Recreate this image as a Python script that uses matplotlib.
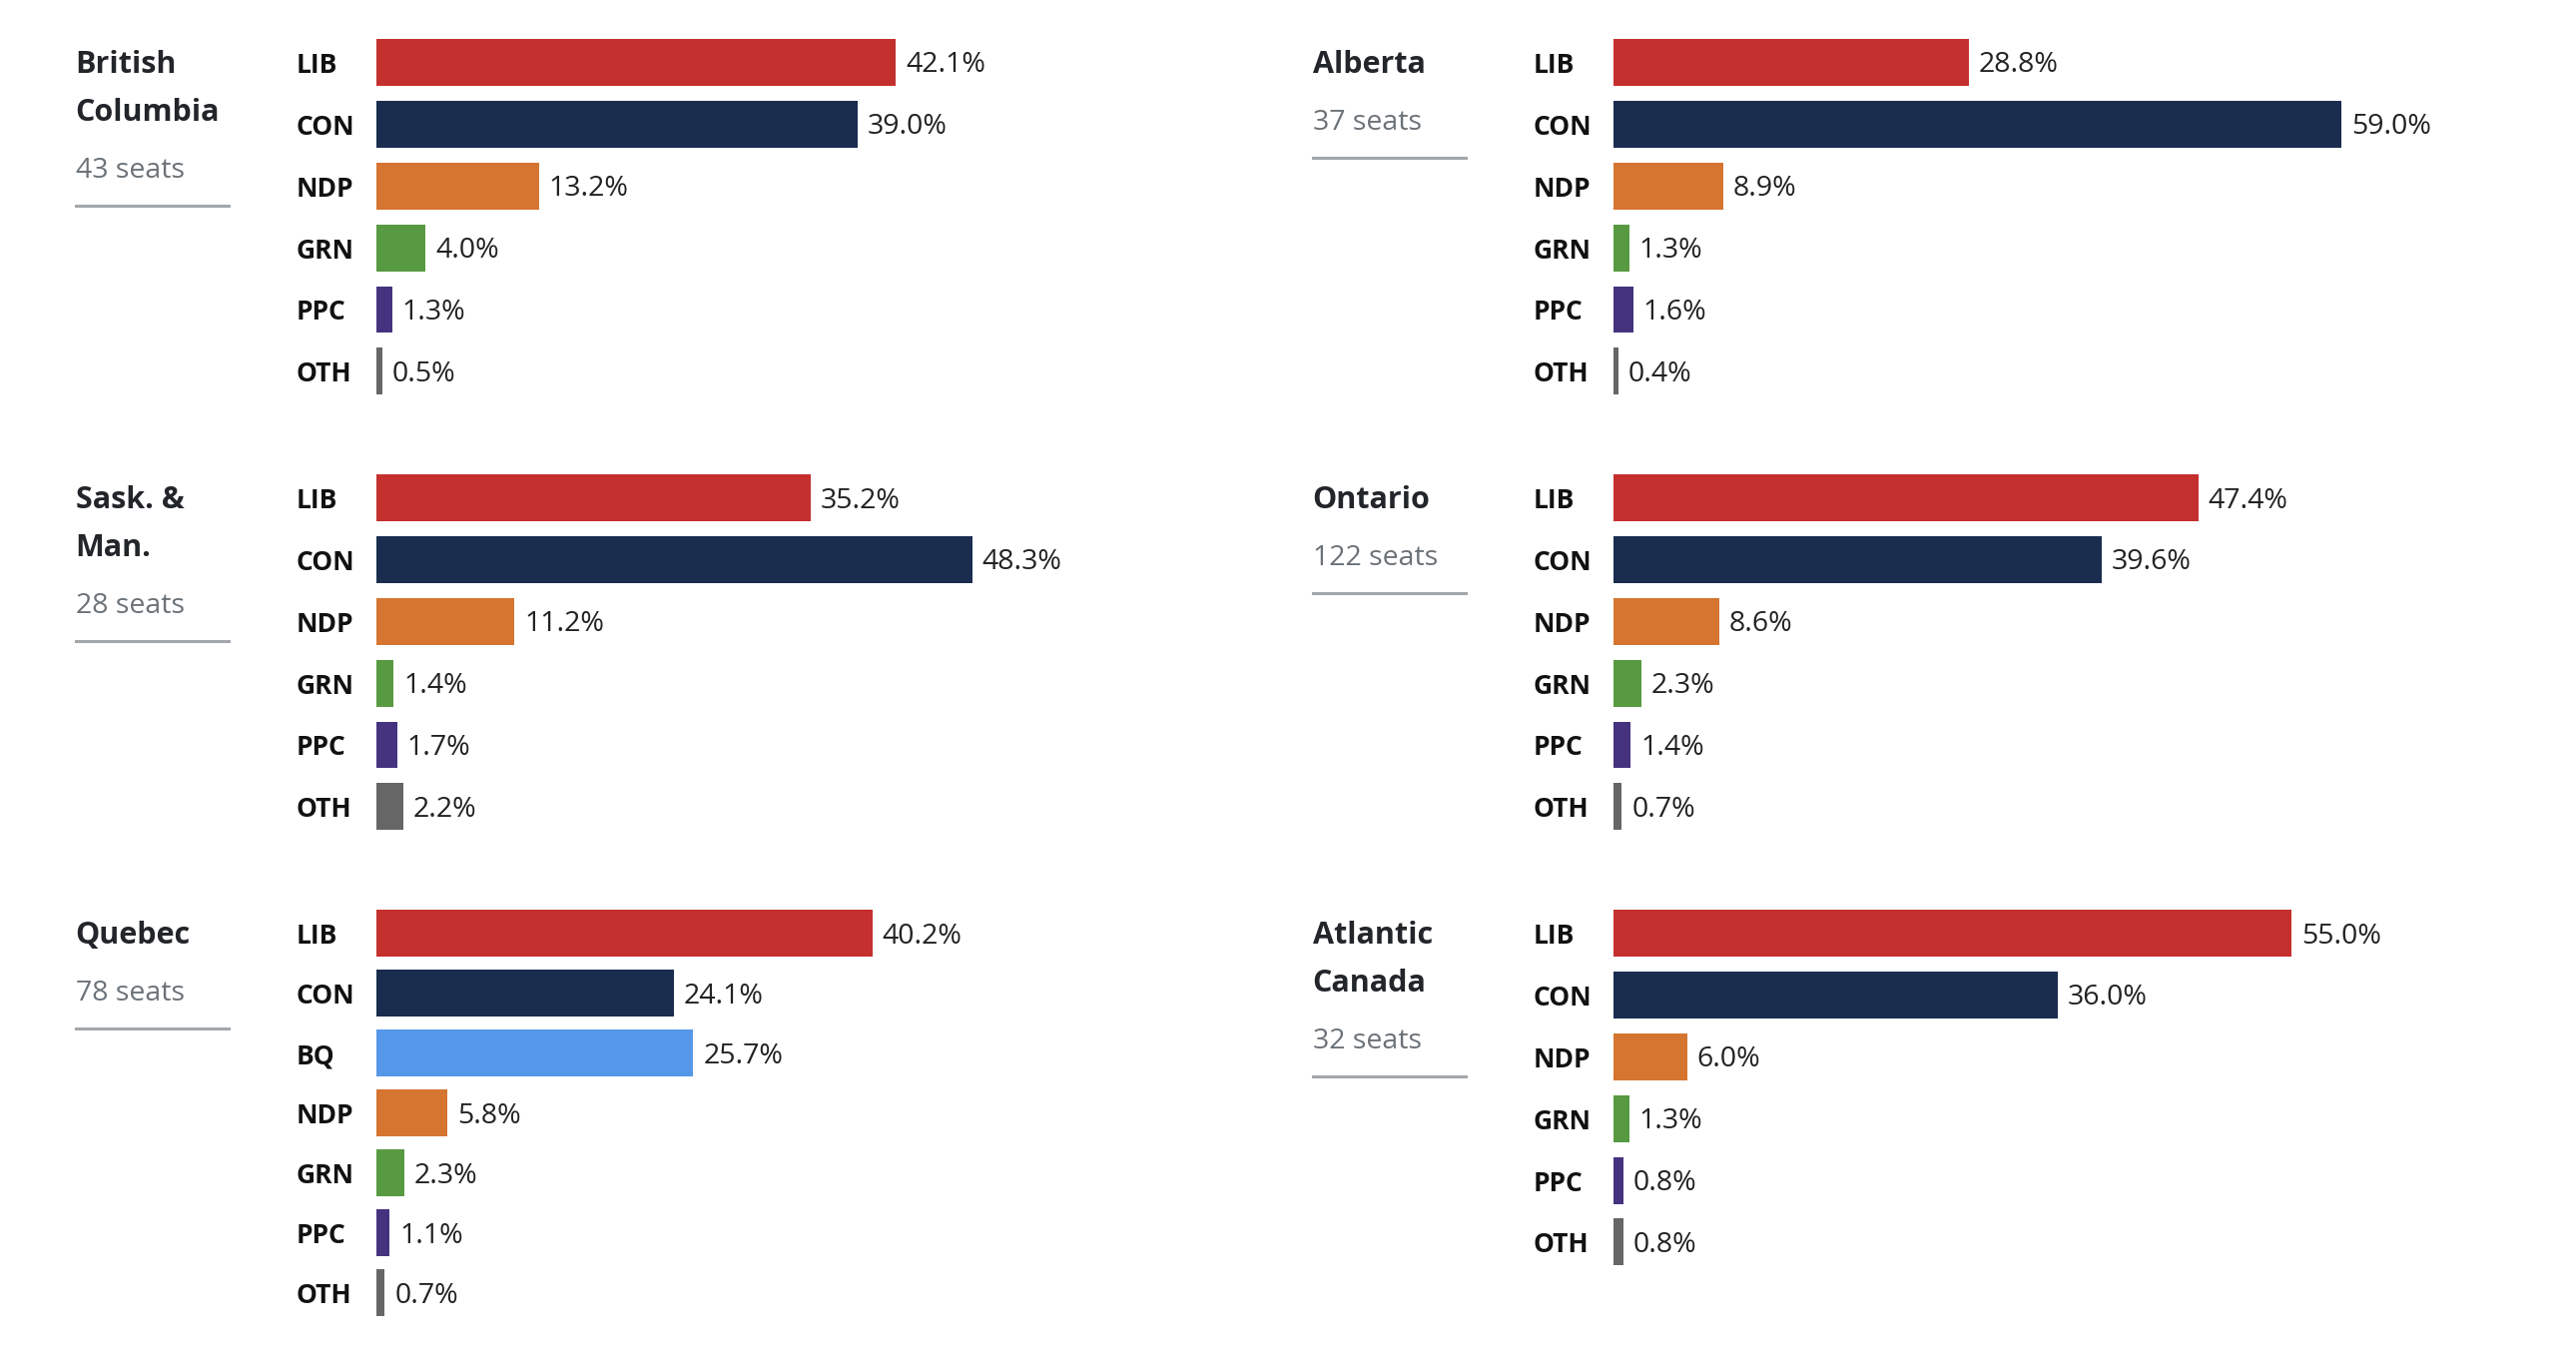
import matplotlib
matplotlib.use("Agg")
import matplotlib.pyplot as plt

plt.rcParams['font.family'] = ['Open Sans', 'DejaVu Sans']

# party colours
colors = {
    "LIB": "#c4302e",
    "CON": "#1a2d4f",
    "BQ": "#5597e8",
    "NDP": "#d57530",
    "GRN": "#579a41",
    "PPC": "#45337f",
    "OTH": "#666666",
}

regions = ["British\nColumbia", "Alberta", "Sask. &\nMan.", "Ontario", "Quebec", "Atlantic\nCanada"]
seats = [43, 37, 28, 122, 78, 32]

parties_std = ["LIB", "CON", "NDP", "GRN", "PPC", "OTH"]
parties_qc = ["LIB", "CON", "BQ", "NDP", "GRN", "PPC", "OTH"]

bc_vals = [42.1, 39.0, 13.2, 4.0, 1.3, 0.5]
ab_vals = [28.8, 59.0, 8.9, 1.3, 1.6, 0.4]
sm_vals = [35.2, 48.3, 11.2, 1.4, 1.7, 2.2]
on_vals = [47.4, 39.6, 8.6, 2.3, 1.4, 0.7]
qc_vals = [40.2, 24.1, 25.7, 5.8, 2.3, 1.1, 0.7]
at_vals = [55.0, 36.0, 6.0, 1.3, 0.8, 0.8]

panel_parties = [parties_std, parties_std, parties_std, parties_std, parties_qc, parties_std]
panel_vals = [bc_vals, ab_vals, sm_vals, on_vals, qc_vals, at_vals]

W, H = 2580, 1362
S = W / 1568.0          # layout measured on a ~1568 px wide view
PX_PER_PCT = 7.51       # view px per percentage point

fig = plt.figure(figsize=(W / 100, H / 100), dpi=100)
fig.patch.set_facecolor("white")

def fx(px):
    return px * S / W

def fy(py):
    return 1 - py * S / H

# column x (title, bar start), row first-bar centre, row step
col_x = [(46, 229), (799, 982)]
row_c0 = [38, 303, 568]
axes_w = [600, 560]

for k in range(6):
    col = k % 2
    row = k // 2
    tx, x0 = col_x[col]
    c0 = row_c0[row]
    parts = panel_parties[k]
    vals = panel_vals[k]
    n = len(parts)
    step = 36.5 if n == 7 else 37.6
    top = c0 - step / 2
    bot = c0 + (n - 0.5) * step
    ax = fig.add_axes([fx(x0), fy(bot), fx(axes_w[col]), fy(top) - fy(bot)])
    ax.set_xlim(0, axes_w[col] / PX_PER_PCT)
    ax.set_ylim(n - 0.5, -0.5)
    ax.axis("off")
    ys = list(range(n))
    ax.barh(ys, vals, height=28.5 / step, color=[colors[p] for p in parts])
    dy = 1.8 / step   # nudge text down a little
    for y, p, v in zip(ys, parts, vals):
        ax.text(-49 / PX_PER_PCT, y + dy, p, ha="left", va="center", fontsize=19,
                fontweight="bold", color="#111111")
        ax.text(v + 0.8, y + dy, f"{v:.1f}%", ha="left", va="center", fontsize=20.5,
                color="#222222")

    # region title
    lines = regions[k].split("\n")
    for i, line in enumerate(lines):
        fig.text(fx(tx), fy(c0 + 1.5 + i * 29), line, ha="left", va="center",
                 fontsize=22, fontweight="bold", color="#222529")
    seat_y = c0 + 1 + (len(lines) - 1) * 29 + 36
    fig.text(fx(tx), fy(seat_y), f"{seats[k]} seats", ha="left", va="center",
             fontsize=20.5, color="#6b7278")
    ly = fy(c0 - 1 + (len(lines) - 1) * 29 + 59)
    fig.add_artist(plt.Line2D([fx(tx), fx(tx + 93)], [ly, ly], color="#a3a7ab",
                              linewidth=2.2, transform=fig.transFigure))

fig.savefig("out.png", dpi=100, facecolor="white")
